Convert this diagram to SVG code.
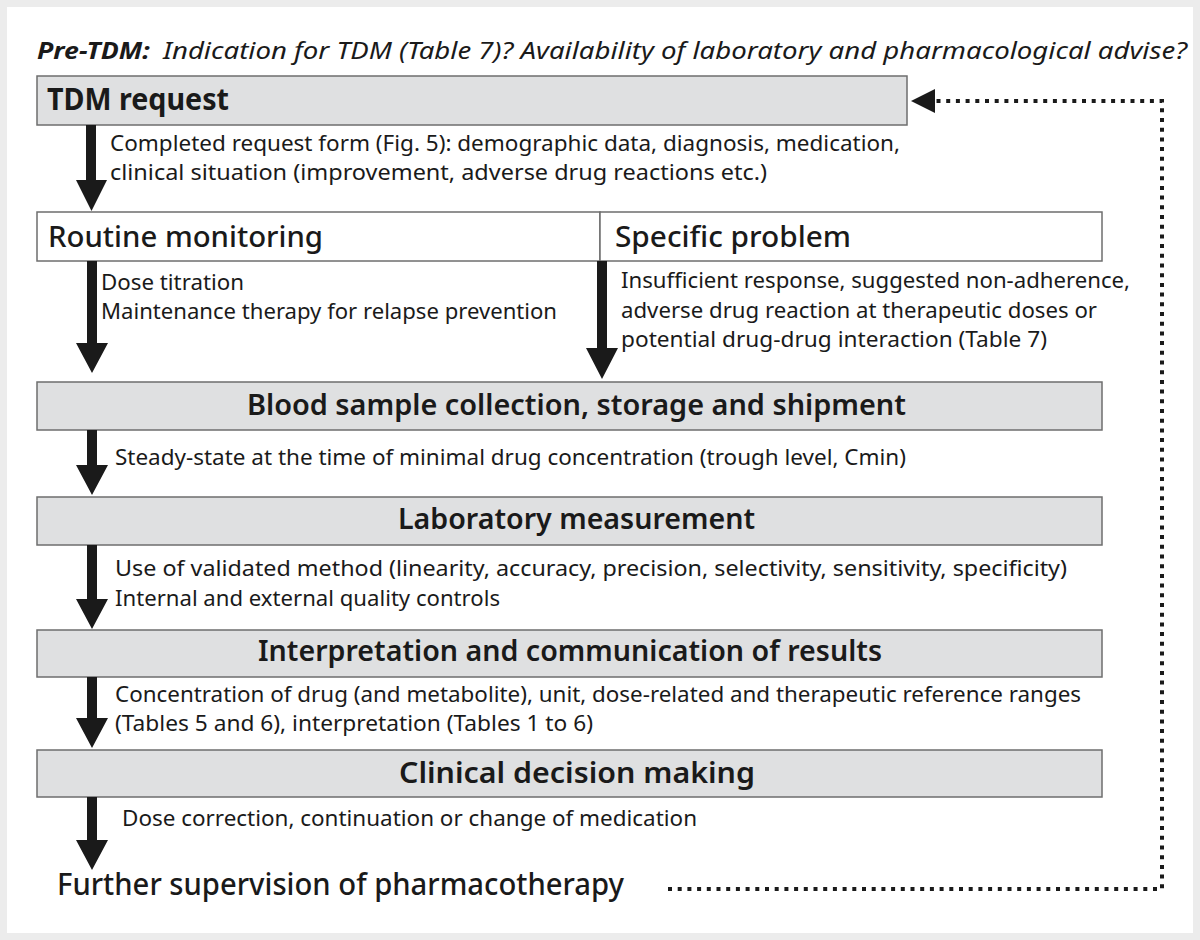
<svg xmlns="http://www.w3.org/2000/svg" width="1200" height="940" viewBox="0 0 1200 940">
<style>
text{font-family:"Noto Sans","Liberation Sans",sans-serif;fill:#1a1a1a}
.t{font-size:22px}
.h{font-size:28px;font-weight:600}
.hr{font-size:28px;font-weight:500}
.box{fill:#dfe0e1;stroke:#6e6e6e;stroke-width:1.5}
.wbox{fill:#fff;stroke:#6e6e6e;stroke-width:1.5}
.arr{fill:#1a1a1a}
.dot{fill:none;stroke:#1a1a1a;stroke-width:4;stroke-dasharray:4 5.7}
</style>
<rect x="0" y="0" width="1200" height="940" fill="#ececec"/>
<rect x="7" y="7" width="1186" height="926" fill="#fff"/>
<g id="title">
<text x="37" y="59" style="font-size:24px;font-weight:700;font-style:italic" textLength="113" lengthAdjust="spacingAndGlyphs">Pre-TDM:</text>
<text x="163" y="59" style="font-size:24px;font-style:italic" textLength="1024" lengthAdjust="spacingAndGlyphs">Indication for TDM (Table 7)? Availability of laboratory and pharmacological advise?</text>
</g>
<g id="tdm-request">
<rect class="box" x="37" y="76" width="870" height="49"/>
<text x="47" y="110" style="font-size:30px;font-weight:700" textLength="182" lengthAdjust="spacingAndGlyphs">TDM request</text>
</g>
<g id="routine">
<rect class="wbox" x="37" y="212" width="563" height="49"/>
<text class="hr" x="48" y="247" textLength="275" lengthAdjust="spacingAndGlyphs">Routine monitoring</text>
</g>
<g id="specific">
<rect class="wbox" x="600" y="212" width="502" height="49"/>
<text class="hr" x="615" y="247" textLength="236" lengthAdjust="spacingAndGlyphs">Specific problem</text>
</g>
<g id="blood">
<rect class="box" x="37" y="382" width="1065" height="48"/>
<text class="h" x="247" y="415" textLength="659" lengthAdjust="spacingAndGlyphs">Blood sample collection, storage and shipment</text>
</g>
<g id="lab">
<rect class="box" x="37" y="497" width="1065" height="48"/>
<text class="h" x="398" y="529" textLength="357" lengthAdjust="spacingAndGlyphs">Laboratory measurement</text>
</g>
<g id="interp">
<rect class="box" x="37" y="630" width="1065" height="47"/>
<text class="h" x="258" y="661" textLength="624" lengthAdjust="spacingAndGlyphs">Interpretation and communication of results</text>
</g>
<g id="clinical">
<rect class="box" x="37" y="750" width="1065" height="47"/>
<text class="h" x="399" y="783" textLength="356" lengthAdjust="spacingAndGlyphs">Clinical decision making</text>
</g>
<g id="further">
<text x="57" y="895" style="font-size:31px;font-weight:500" textLength="567" lengthAdjust="spacingAndGlyphs">Further supervision of pharmacotherapy</text>
</g>
<g id="connectors">
<path class="arr" d="M86,125 H96 V180 H107 L91.5,211 L76,180 H86 Z"/>
<path class="arr" d="M87,261 H97 V343 H108 L92,373 L76,343 H87 Z"/>
<path class="arr" d="M597,261 H607 V348 H618 L602,379 L586,348 H597 Z"/>
<path class="arr" d="M87,430 H97 V465 H108 L92,495 L76,465 H87 Z"/>
<path class="arr" d="M87,545 H97 V599 H108 L92,629 L76,599 H87 Z"/>
<path class="arr" d="M87,677 H97 V718 H108 L92,748 L76,718 H87 Z"/>
<path class="arr" d="M87,797 H97 V840 H108 L92,870 L76,840 H87 Z"/>
<path class="dot" d="M668,889 H1162 V101 H936"/>
<polygon class="arr" points="911,101 935,89 935,113"/>
</g>
<g id="labels">
<text class="t" x="110" y="151" textLength="790" lengthAdjust="spacingAndGlyphs">Completed request form (Fig. 5): demographic data, diagnosis, medication,</text>
<text class="t" x="110" y="180" textLength="657" lengthAdjust="spacingAndGlyphs">clinical situation (improvement, adverse drug reactions etc.)</text>
<text class="t" x="101" y="290" textLength="143" lengthAdjust="spacingAndGlyphs">Dose titration</text>
<text class="t" x="101" y="319" textLength="456" lengthAdjust="spacingAndGlyphs">Maintenance therapy for relapse prevention</text>
<text class="t" x="621" y="288" textLength="509" lengthAdjust="spacingAndGlyphs">Insufficient response, suggested non-adherence,</text>
<text class="t" x="621" y="318" textLength="476" lengthAdjust="spacingAndGlyphs">adverse drug reaction at therapeutic doses or</text>
<text class="t" x="621" y="347" textLength="426" lengthAdjust="spacingAndGlyphs">potential drug-drug interaction (Table 7)</text>
<text class="t" x="115" y="465" textLength="791" lengthAdjust="spacingAndGlyphs">Steady-state at the time of minimal drug concentration (trough level, Cmin)</text>
<text class="t" x="115" y="576" textLength="952" lengthAdjust="spacingAndGlyphs">Use of validated method (linearity, accuracy, precision, selectivity, sensitivity, specificity)</text>
<text class="t" x="115" y="606" textLength="385" lengthAdjust="spacingAndGlyphs">Internal and external quality controls</text>
<text class="t" x="115" y="702" textLength="966" lengthAdjust="spacingAndGlyphs">Concentration of drug (and metabolite), unit, dose-related and therapeutic reference ranges</text>
<text class="t" x="115" y="731" textLength="478" lengthAdjust="spacingAndGlyphs">(Tables 5 and 6), interpretation (Tables 1 to 6)</text>
<text class="t" x="122" y="826" textLength="575" lengthAdjust="spacingAndGlyphs">Dose correction, continuation or change of medication</text>
</g>
</svg>
